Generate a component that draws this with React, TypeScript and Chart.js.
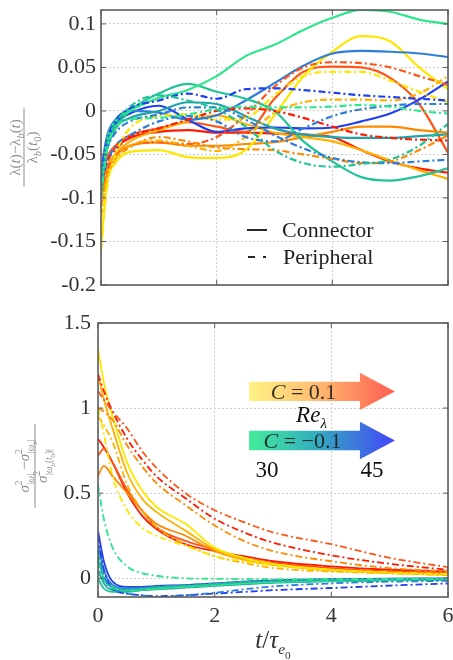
import React, { useEffect, useRef } from "react";
import { Chart, registerables } from "chart.js";
Chart.register(...registerables);

const FONT = "'Liberation Serif', 'Times New Roman', serif";

// colours: C = 0.1 (Re 30 -> 45) and C = -0.1 (Re 30 -> 45)
const cY = "#ffe600", cLO = "#ffb000", cO = "#ff8a00", cOR = "#ff5518", cR = "#ff1a00";
const cG = "#2ee68c", cGT = "#20c496", cT = "#1fa3a8", cSB = "#2c7ed8", cB = "#1f3ff0";

// ---------- top panel: (lambda(t)-lambda_b(t))/lambda_b(t0) ----------
const tTop = [0, 0.1, 0.25, 0.5, 1, 1.5, 2, 2.5, 3, 3.5, 4, 4.5, 5, 5.5, 6];
// connector (solid)
const topGreenC = [-0.09, -0.035, -0.012, 0.0, 0.015, 0.024, 0.04, 0.063, 0.076, 0.093, 0.107, 0.116, 0.114, 0.105, 0.1];
const topGreenTealC = [-0.1, -0.045, -0.02, 0.0, 0.02, 0.031, 0.022, 0.014, 0.0, -0.035, -0.058, -0.076, -0.08, -0.075, -0.066];
const topTealC = [-0.08, -0.045, -0.02, -0.008, 0.0, 0.01, 0.008, -0.006, -0.02, -0.027, -0.03, -0.031, -0.031, -0.029, -0.027];
const topSteelC = [-0.07, -0.03, -0.01, 0.0, -0.002, -0.01, -0.005, 0.012, 0.032, 0.052, 0.066, 0.069, 0.068, 0.066, 0.062];
const topBlueC = [-0.085, -0.04, -0.015, -0.003, 0.006, -0.01, -0.024, -0.02, -0.019, -0.02, -0.019, -0.012, -0.003, 0.013, 0.034];
const topYellowC = [-0.155, -0.085, -0.06, -0.047, -0.045, -0.053, -0.054, -0.045, -0.005, 0.04, 0.068, 0.086, 0.08, 0.05, 0.025];
const topLOrangeC = [-0.1, -0.07, -0.05, -0.035, -0.022, -0.012, -0.005, -0.015, -0.025, -0.03, -0.035, -0.045, -0.057, -0.068, -0.078];
const topOrangeC = [-0.09, -0.065, -0.05, -0.04, -0.036, -0.04, -0.04, -0.038, -0.036, -0.03, -0.024, -0.018, -0.018, -0.022, -0.025];
const topORedC = [-0.085, -0.055, -0.04, -0.028, -0.02, -0.013, -0.018, -0.024, 0.014, 0.045, 0.051, 0.05, 0.038, 0.008, -0.048];
const topRedC = [-0.08, -0.055, -0.042, -0.031, -0.024, -0.022, -0.025, -0.025, -0.026, -0.027, -0.03, -0.045, -0.058, -0.066, -0.071];
// peripheral (dash-dot)
const topGreenP = [-0.1, -0.045, -0.02, -0.01, -0.008, -0.004, 0.002, 0.005, 0.004, 0.004, 0.005, 0.007, 0.005, 0.0, -0.003];
const topGreenTealP = [-0.09, -0.04, -0.015, 0.005, 0.018, 0.012, 0.002, -0.018, -0.045, -0.06, -0.064, -0.061, -0.056, -0.04, -0.015];
const topTealP = [-0.08, -0.045, -0.025, -0.012, -0.004, 0.004, 0.004, -0.01, -0.028, -0.043, -0.054, -0.059, -0.06, -0.058, -0.056];
const topSteelP = [-0.085, -0.06, -0.04, -0.028, -0.012, -0.006, -0.012, -0.03, -0.035, -0.02, -0.006, 0.002, 0.006, 0.008, 0.008];
const topBlueP = [-0.075, -0.035, -0.012, 0.003, 0.012, 0.02, 0.014, 0.025, 0.026, 0.024, 0.021, 0.018, 0.016, 0.014, 0.012];
const topYellowP = [-0.16, -0.09, -0.05, -0.02, -0.006, -0.004, -0.01, -0.008, 0.018, 0.04, 0.045, 0.045, 0.035, 0.022, 0.01];
const topLOrangeP = [-0.12, -0.08, -0.055, -0.04, -0.034, -0.04, -0.046, -0.03, -0.002, 0.01, 0.013, 0.013, 0.012, 0.02, 0.04];
const topOrangeP = [-0.11, -0.075, -0.055, -0.042, -0.03, -0.035, -0.042, -0.044, -0.045, -0.05, -0.055, -0.06, -0.058, -0.045, -0.028];
const topORedP = [-0.1, -0.07, -0.052, -0.04, -0.036, -0.038, -0.03, -0.005, 0.028, 0.05, 0.056, 0.055, 0.05, 0.04, 0.03];
const topRedP = [-0.09, -0.06, -0.045, -0.03, -0.02, -0.01, 0.0, 0.003, 0.0, -0.008, -0.018, -0.027, -0.031, -0.033, -0.034];

const yTopTicks = [-0.2, -0.15, -0.1, -0.05, 0, 0.05, 0.1];
const yTopLabels = ["-0.2", "-0.15", "-0.1", "-0.05", "0", "0.05", "0.1"];
const xTicks = [0, 2, 4, 6];
const xLabels = ["0", "2", "4", "6"];

// ---------- bottom panel: normalized vorticity variance ----------
const tBot = [0, 0.1, 0.25, 0.5, 0.75, 1, 1.5, 2, 2.5, 3, 4, 5, 6];
const botYellowC = [1.35, 1.15, 0.95, 0.68, 0.52, 0.42, 0.32, 0.18, 0.12, 0.085, 0.05, 0.03, 0.02];
const botLOrangeC = [1.2, 1.05, 0.88, 0.62, 0.47, 0.39, 0.28, 0.17, 0.11, 0.08, 0.045, 0.03, 0.02];
const botOrangeC = [0.6, 0.66, 0.6, 0.5, 0.4, 0.32, 0.25, 0.16, 0.11, 0.08, 0.05, 0.035, 0.025];
const botORedC = [0.72, 0.76, 0.68, 0.52, 0.4, 0.3, 0.22, 0.17, 0.12, 0.09, 0.06, 0.04, 0.03];
const botRedC = [0.82, 0.77, 0.68, 0.5, 0.37, 0.29, 0.2, 0.16, 0.13, 0.1, 0.07, 0.05, 0.04];
const botGreenC = [0.12, 0.0, -0.05, -0.07, -0.068, -0.06, -0.05, -0.04, -0.03, -0.023, -0.015, -0.01, -0.006];
const botGreenTealC = [0.0, -0.06, -0.08, -0.08, -0.07, -0.06, -0.05, -0.04, -0.03, -0.022, -0.015, -0.01, -0.006];
const botTealC = [0.05, -0.03, -0.07, -0.075, -0.07, -0.065, -0.055, -0.045, -0.035, -0.027, -0.018, -0.012, -0.008];
const botSteelC = [0.2, 0.05, -0.04, -0.06, -0.055, -0.05, -0.045, -0.035, -0.025, -0.018, -0.01, -0.005, -0.003];
const botBlueC = [0.28, 0.1, -0.02, -0.05, -0.05, -0.045, -0.04, -0.03, -0.02, -0.012, -0.005, -0.002, -0.001];
const botYellowP = [1.0, 0.85, 0.6, 0.4, 0.3, 0.25, 0.19, 0.13, 0.1, 0.075, 0.05, 0.035, 0.025];
const botLOrangeP = [0.95, 0.9, 0.8, 0.55, 0.4, 0.3, 0.2, 0.13, 0.09, 0.06, 0.04, 0.03, 0.02];
const botOrangeP = [1.0, 0.98, 0.93, 0.78, 0.66, 0.56, 0.43, 0.31, 0.22, 0.16, 0.1, 0.06, 0.04];
const botORedP = [1.1, 1.05, 0.98, 0.88, 0.75, 0.65, 0.5, 0.4, 0.33, 0.27, 0.2, 0.12, 0.065];
const botRedP = [1.2, 1.1, 0.98, 0.82, 0.7, 0.6, 0.47, 0.35, 0.27, 0.21, 0.135, 0.085, 0.05];
const botGreenP = [0.55, 0.35, 0.18, 0.07, 0.03, 0.015, 0.0, -0.003, -0.005, -0.005, -0.005, -0.003, -0.002];
const botGreenTealP = [0.1, -0.02, -0.06, -0.07, -0.065, -0.055, -0.045, -0.035, -0.025, -0.018, -0.012, -0.008, -0.005];
const botTealP = [0.15, 0.0, -0.05, -0.065, -0.06, -0.05, -0.04, -0.03, -0.02, -0.015, -0.01, -0.007, -0.005];
const botSteelP = [0.18, 0.02, -0.06, -0.09, -0.1, -0.11, -0.1, -0.085, -0.065, -0.048, -0.03, -0.02, -0.015];
const botBlueP = [0.25, 0.05, -0.06, -0.09, -0.1, -0.105, -0.1, -0.09, -0.08, -0.07, -0.057, -0.043, -0.03];

const yBotTicks = [0, 0.5, 1, 1.5];
const yBotLabels = ["0", "0.5", "1", "1.5"];

type Ser = { v: number[]; c: string; p: boolean };
const topSeries: Ser[] = [
  { v: topGreenP, c: cG, p: true }, { v: topGreenTealP, c: cGT, p: true }, { v: topTealP, c: cSB, p: true },
  { v: topSteelP, c: cSB, p: true }, { v: topBlueP, c: cB, p: true },
  { v: topYellowP, c: cY, p: true }, { v: topLOrangeP, c: cLO, p: true }, { v: topOrangeP, c: cO, p: true },
  { v: topORedP, c: cOR, p: true }, { v: topRedP, c: cR, p: true },
  { v: topGreenC, c: cG, p: false }, { v: topGreenTealC, c: cGT, p: false }, { v: topTealC, c: cT, p: false },
  { v: topSteelC, c: cSB, p: false }, { v: topBlueC, c: cB, p: false },
  { v: topYellowC, c: cY, p: false }, { v: topLOrangeC, c: cLO, p: false }, { v: topOrangeC, c: cO, p: false },
  { v: topORedC, c: cOR, p: false }, { v: topRedC, c: cR, p: false },
];
const botSeries: Ser[] = [
  { v: botGreenP, c: cG, p: true }, { v: botGreenTealP, c: cGT, p: true }, { v: botTealP, c: cT, p: true },
  { v: botSteelP, c: cSB, p: true }, { v: botBlueP, c: cB, p: true },
  { v: botGreenC, c: cG, p: false }, { v: botGreenTealC, c: cGT, p: false }, { v: botTealC, c: cT, p: false },
  { v: botSteelC, c: cSB, p: false }, { v: botBlueC, c: cB, p: false },
  { v: botYellowP, c: cY, p: true }, { v: botLOrangeP, c: cLO, p: true }, { v: botOrangeP, c: cO, p: true },
  { v: botORedP, c: cOR, p: true }, { v: botRedP, c: cR, p: true },
  { v: botYellowC, c: cY, p: false }, { v: botLOrangeC, c: cLO, p: false }, { v: botOrangeC, c: cO, p: false },
  { v: botORedC, c: cOR, p: false }, { v: botRedC, c: cR, p: false },
];

const DASHDOT = [7, 3, 2, 3];

type Seg = { t: string; it?: boolean; s?: number; dy?: number; hold?: boolean };
function fontOf(size: number, it?: boolean) {
  return `${it ? "italic " : ""}${size.toFixed(1)}px ${FONT}`;
}
function drawRich(ctx: CanvasRenderingContext2D, segs: Seg[], x: number, y: number, size: number, align: "left" | "center") {
  const widths = segs.map((g) => {
    ctx.font = fontOf(size * (g.s ?? 1), g.it);
    return ctx.measureText(g.t).width;
  });
  let total = 0, held = 0;
  segs.forEach((g, i) => {
    if (g.hold) held = Math.max(held, widths[i]);
    else { total += Math.max(widths[i], held); held = 0; }
  });
  total += held;
  let cx = align === "center" ? x - total / 2 : x;
  held = 0;
  ctx.textAlign = "left";
  ctx.textBaseline = "alphabetic";
  segs.forEach((g, i) => {
    ctx.font = fontOf(size * (g.s ?? 1), g.it);
    ctx.fillText(g.t, cx, y + (g.dy ?? 0) * size);
    if (g.hold) held = Math.max(held, widths[i]);
    else { cx += Math.max(widths[i], held); held = 0; }
  });
}

const framePlugin = {
  id: "frame",
  afterDraw(chart: any) {
    const { ctx, chartArea: a, scales } = chart;
    ctx.save();
    ctx.strokeStyle = "#5c5c5c";
    ctx.lineWidth = 1;
    ctx.beginPath();
    scales.x.ticks.forEach((tk: any) => {
      const px = scales.x.getPixelForValue(tk.value);
      ctx.moveTo(px, a.bottom); ctx.lineTo(px, a.bottom - 5);
      ctx.moveTo(px, a.top); ctx.lineTo(px, a.top + 5);
    });
    scales.y.ticks.forEach((tk: any) => {
      const py = scales.y.getPixelForValue(tk.value);
      ctx.moveTo(a.left, py); ctx.lineTo(a.left + 5, py);
      ctx.moveTo(a.right, py); ctx.lineTo(a.right - 5, py);
    });
    ctx.stroke();
    ctx.lineWidth = 1.6;
    ctx.strokeRect(a.left, a.top, a.right - a.left, a.bottom - a.top);
    ctx.restore();
  },
};

function fraction(ctx: CanvasRenderingContext2D, cx: number, cy: number, half: number, num: Seg[], den: Seg[], size: number, numY: number, denY: number) {
  ctx.save();
  ctx.translate(cx, cy);
  ctx.rotate(-Math.PI / 2);
  ctx.fillStyle = "#8d8d8d";
  ctx.strokeStyle = "#8d8d8d";
  ctx.lineWidth = 1;
  ctx.beginPath();
  ctx.moveTo(-half, 0); ctx.lineTo(half, 0);
  ctx.stroke();
  drawRich(ctx, num, 0, numY, size, "center");
  drawRich(ctx, den, 0, denY, size, "center");
  ctx.restore();
}

const topDecor = {
  id: "topDecor",
  afterDraw(chart: any) {
    const { ctx, chartArea: a } = chart;
    const midY = (a.top + a.bottom) / 2;
    fraction(
      ctx, 24, midY, 39,
      [{ t: "λ(" }, { t: "t", it: true }, { t: ")−λ" }, { t: "b", it: true, s: 0.7, dy: 0.25 }, { t: "(" }, { t: "t", it: true }, { t: ")" }],
      [{ t: "λ" }, { t: "b", it: true, s: 0.7, dy: 0.25 }, { t: "(" }, { t: "t", it: true }, { t: "0", s: 0.7, dy: 0.25 }, { t: ")" }],
      15, -4, 13
    );
    // legend
    ctx.save();
    ctx.strokeStyle = "#262626";
    ctx.fillStyle = "#1e1e1e";
    ctx.lineWidth = 2.2;
    const lx = a.left + 146;
    ctx.beginPath();
    ctx.moveTo(lx, 230); ctx.lineTo(lx + 20, 230);
    ctx.moveTo(lx + 1, 257); ctx.lineTo(lx + 8, 257);
    ctx.moveTo(lx + 16, 257); ctx.lineTo(lx + 19, 257);
    ctx.stroke();
    ctx.font = `22px ${FONT}`;
    ctx.textAlign = "left";
    ctx.textBaseline = "alphabetic";
    ctx.fillText("Connector", lx + 35, 237);
    ctx.fillText("Peripheral", lx + 36, 264);
    ctx.restore();
  },
};

function arrow(ctx: CanvasRenderingContext2D, x1: number, xh: number, xt: number, yc: number, hb: number, hh: number, stops: [number, string][]) {
  const g = ctx.createLinearGradient(x1, 0, xt, 0);
  stops.forEach(([o, c]) => g.addColorStop(o, c));
  ctx.fillStyle = g;
  ctx.beginPath();
  ctx.moveTo(x1, yc - hb); ctx.lineTo(xh, yc - hb); ctx.lineTo(xh, yc - hh); ctx.lineTo(xt, yc);
  ctx.lineTo(xh, yc + hh); ctx.lineTo(xh, yc + hb); ctx.lineTo(x1, yc + hb);
  ctx.closePath();
  ctx.fill();
}

const botDecor = {
  id: "botDecor",
  afterDraw(chart: any) {
    const { ctx, chartArea: a, scales } = chart;
    const xs = scales.x, ys = scales.y;
    fraction(
      ctx, 35, 166, 42,
      [{ t: "σ", it: true }, { t: "2", s: 0.62, dy: -0.45, hold: true }, { t: "|ω|", it: true, s: 0.62, dy: 0.32 },
       { t: " −" }, { t: "σ", it: true }, { t: "2", s: 0.62, dy: -0.45, hold: true }, { t: "|ω", it: true, s: 0.62, dy: 0.32 },
       { t: "b", it: true, s: 0.45, dy: 0.5 }, { t: "|", s: 0.62, dy: 0.32 }],
      [{ t: "σ", it: true }, { t: "2", s: 0.62, dy: -0.45, hold: true }, { t: "|ω", it: true, s: 0.62, dy: 0.32 },
       { t: "b", it: true, s: 0.45, dy: 0.5 }, { t: "(", s: 0.62, dy: 0.32 }, { t: "t", it: true, s: 0.62, dy: 0.32 },
       { t: "0", s: 0.45, dy: 0.5 }, { t: ")|", s: 0.62, dy: 0.32 }],
      15, -6, 12
    );
    // arrows
    const x1 = xs.getPixelForValue(2.59), xh = xs.getPixelForValue(4.49), xt = xs.getPixelForValue(5.09);
    const y1 = ys.getPixelForValue(1.098), y2 = ys.getPixelForValue(0.81);
    ctx.save();
    arrow(ctx, x1, xh, xt, y1, 9.7, 18.7, [[0, "rgba(255,242,125,0.95)"], [0.45, "rgba(255,186,105,0.95)"], [1, "rgba(255,84,72,0.95)"]]);
    arrow(ctx, x1, xh, xt, y2, 9.7, 18.7, [[0, "rgba(58,234,150,0.95)"], [0.45, "rgba(40,170,185,0.95)"], [1, "rgba(58,60,248,0.95)"]]);
    ctx.fillStyle = "rgba(30,30,30,0.9)";
    const tc = (x1 + xh) / 2 - 1;
    drawRich(ctx, [{ t: "C", it: true }, { t: " = 0.1" }], tc, y1 + 7.5, 22, "center");
    drawRich(ctx, [{ t: "C", it: true }, { t: " = −0.1" }], tc - 1, y2 + 7.5, 22, "center");
    ctx.fillStyle = "#111";
    drawRich(ctx, [{ t: "Re", it: true }, { t: "λ", it: true, s: 0.65, dy: 0.28 }], tc + 8, (y1 + y2) / 2 + 6, 23, "center");
    ctx.font = `23px ${FONT}`;
    ctx.textAlign = "center";
    ctx.textBaseline = "alphabetic";
    ctx.fillText("30", x1 + 18, y2 + 37);
    ctx.fillText("45", xh + 12, y2 + 37);
    // x title
    ctx.fillStyle = "#333";
    drawRich(ctx, [{ t: "t", it: true }, { t: "/" }, { t: "τ", it: true }, { t: "e", it: true, s: 0.62, dy: 0.25 }, { t: "0", s: 0.45, dy: 0.45 }],
      (a.left + a.right) / 2, 348, 25, "center");
    ctx.restore();
  },
};

function makeDatasets(ts: number[], series: Ser[], lw: number) {
  return series.map((s) => ({
    data: ts.map((t, i) => ({ x: t, y: s.v[i] })),
    borderColor: s.c,
    borderWidth: lw,
    borderDash: s.p ? DASHDOT : [],
    pointRadius: 0,
    fill: false,
    tension: 0.4,
    cubicInterpolationMode: "monotone" as const,
  }));
}

function fixScale(width?: number, height?: number) {
  return (scale: any) => {
    scale.paddingTop = 0; scale.paddingBottom = 0; scale.paddingLeft = 0; scale.paddingRight = 0;
    if (width !== undefined) scale.width = width;
    if (height !== undefined) scale.height = height;
  };
}

const gridOpts = { color: "#cfcfcf", lineWidth: 1, drawTicks: false };
const tickFont = { family: FONT, size: 22 };

export default function App() {
  const topRef = useRef<HTMLCanvasElement>(null);
  const botRef = useRef<HTMLCanvasElement>(null);

  useEffect(() => {
    const top = new Chart(topRef.current!, {
      type: "line",
      data: { datasets: makeDatasets(tTop, topSeries, 2.2) as any },
      options: {
        animation: false,
        responsive: false,
        layout: { padding: { left: 0, right: 5, top: 10, bottom: 0 } },
        plugins: { legend: { display: false }, tooltip: { enabled: false } },
        scales: {
          x: {
            type: "linear", min: 0, max: 6,
            afterBuildTicks: (s: any) => { s.ticks = xTicks.map((v) => ({ value: v })); },
            ticks: { display: false },
            grid: gridOpts,
            border: { display: false, dash: [2, 2] },
            afterFit: fixScale(undefined, 15),
          },
          y: {
            type: "linear", min: -0.2, max: 0.116,
            afterBuildTicks: (s: any) => { s.ticks = yTopTicks.map((v) => ({ value: v })); },
            ticks: { font: tickFont, color: "#333", padding: 5, callback: (_v: any, i: number) => yTopLabels[i] },
            grid: gridOpts,
            border: { display: false, dash: [2, 2] },
            afterFit: fixScale(101, undefined),
          },
        },
      } as any,
      plugins: [framePlugin, topDecor],
    });
    const bot = new Chart(botRef.current!, {
      type: "line",
      data: { datasets: makeDatasets(tBot, botSeries, 1.8) as any },
      options: {
        animation: false,
        responsive: false,
        layout: { padding: { left: 0, right: 5, top: 23, bottom: 0 } },
        plugins: { legend: { display: false }, tooltip: { enabled: false } },
        scales: {
          x: {
            type: "linear", min: 0, max: 6,
            afterBuildTicks: (s: any) => { s.ticks = xTicks.map((v) => ({ value: v })); },
            ticks: { font: tickFont, color: "#333", padding: 6, maxRotation: 0, callback: (_v: any, i: number) => xLabels[i] },
            grid: gridOpts,
            border: { display: false, dash: [2, 2] },
            afterFit: fixScale(undefined, 63),
          },
          y: {
            type: "linear", min: -0.11, max: 1.5,
            afterBuildTicks: (s: any) => { s.ticks = yBotTicks.map((v) => ({ value: v })); },
            ticks: { font: tickFont, color: "#333", padding: 7, callback: (_v: any, i: number) => yBotLabels[i] },
            grid: gridOpts,
            border: { display: false, dash: [2, 2] },
            afterFit: fixScale(98, undefined),
          },
        },
      } as any,
      plugins: [framePlugin, botDecor],
    });
    return () => { top.destroy(); bot.destroy(); };
  }, []);

  return (
    <div style={{ position: "absolute", left: 0, top: 0, width: 453, height: 660, background: "#fff" }}>
      <canvas ref={topRef} width={453} height={300} style={{ position: "absolute", left: 0, top: 0, width: 453, height: 300 }} />
      <canvas ref={botRef} width={453} height={360} style={{ position: "absolute", left: 0, top: 300, width: 453, height: 360 }} />
    </div>
  );
}
